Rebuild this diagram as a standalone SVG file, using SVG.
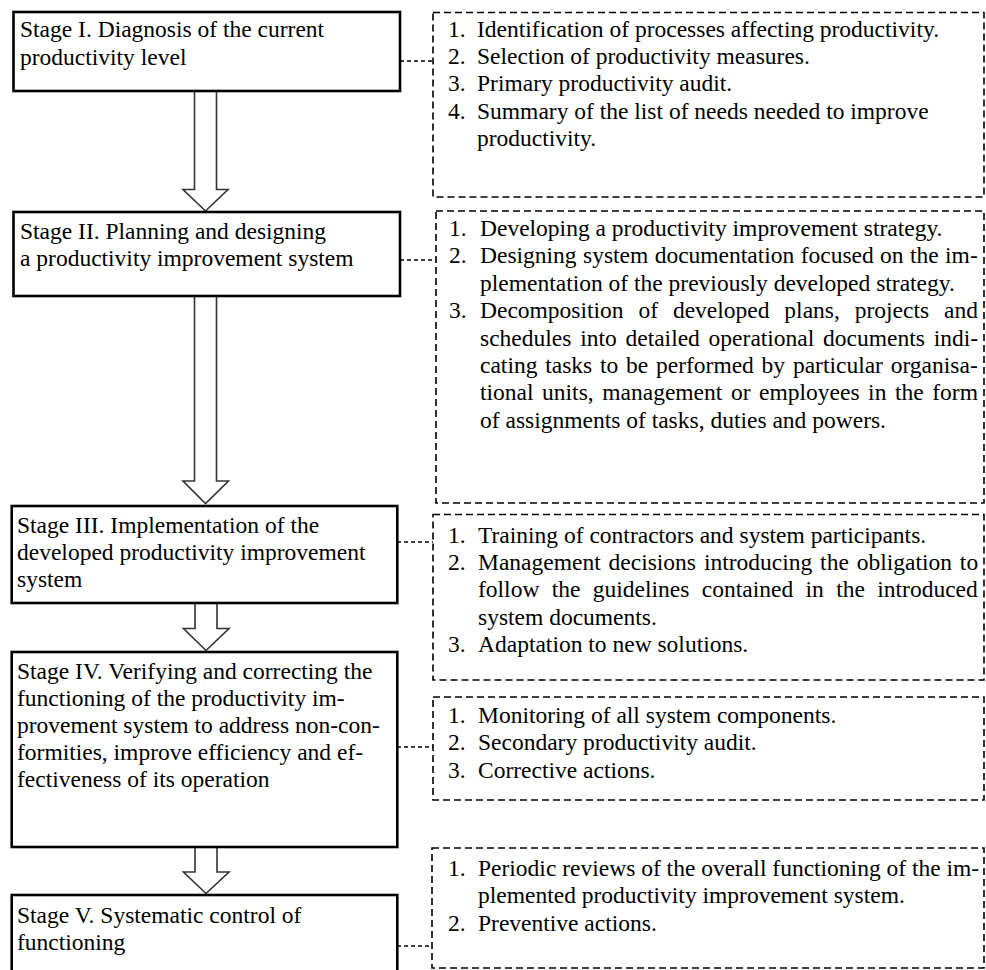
<svg xmlns="http://www.w3.org/2000/svg" width="986" height="970" viewBox="0 0 986 970">
<style>
text{font-family:"Liberation Serif","Times New Roman",serif;font-size:23.5px;fill:#000}
.stage{fill:#fff;stroke:#000;stroke-width:2.6}
.list{fill:none;stroke:#000;stroke-width:1.6;stroke-dasharray:7 4}
.arrow{fill:#fff;stroke:#333;stroke-width:1.6;stroke-linejoin:miter}
.conn{fill:none;stroke:#000;stroke-width:1.3;stroke-dasharray:4 3}
</style>
<rect width="986" height="970" fill="#fff"/>
<g id="connectors">
<path class="conn" d="M400 61 H433"/>
<path class="conn" d="M400 260 H436"/>
<path class="conn" d="M397 542 H433"/>
<path class="conn" d="M397 747 H433"/>
<path class="conn" d="M397 946 H432"/>
<path class="arrow" d="M194.5 91 V189.5 H183 L205.5 211 L228 189.5 H216.5 V91"/>
<path class="arrow" d="M194.5 296 V481 H183 L205.5 503.5 L228.5 481 H216.5 V296"/>
<path class="arrow" d="M195 603 V628.5 H183.5 L206 650.5 L229 628.5 H217 V603"/>
<path class="arrow" d="M195 847 V872 H183.5 L206 893.5 L229 872 H217 V847"/>
</g>
<g id="stage1">
<rect class="stage" x="13.5" y="12" width="386.5" height="79"/>
<text x="20" y="37">Stage I. Diagnosis of the current</text>
<text x="20" y="64.5">productivity level</text>
</g>
<g id="stage2">
<rect class="stage" x="13.5" y="212" width="386.5" height="84"/>
<text x="20" y="239">Stage II. Planning and designing</text>
<text x="20" y="266">a productivity improvement system</text>
</g>
<g id="stage3">
<rect class="stage" x="11.7" y="506" width="385.6" height="97"/>
<text x="17" y="533">Stage III. Implementation of the</text>
<text x="17" y="560">developed productivity improvement</text>
<text x="17" y="587">system</text>
</g>
<g id="stage4">
<rect class="stage" x="11.7" y="652" width="385.6" height="195"/>
<text x="17" y="678.5">Stage IV. Verifying and correcting the</text>
<text x="17" y="705.5">functioning of the productivity im-</text>
<text x="17" y="732.5">provement system to address non-con-</text>
<text x="17" y="759.5">formities, improve efficiency and ef-</text>
<text x="17" y="786.5">fectiveness of its operation</text>
</g>
<g id="stage5">
<rect class="stage" x="11.7" y="895" width="385.6" height="90"/>
<text x="17" y="922.5">Stage V. Systematic control of</text>
<text x="17" y="949.5">functioning</text>
</g>
<g id="list1">
<rect class="list" x="433" y="12.5" width="551" height="184.5"/>
<text x="448" y="36.5">1.</text><text x="477" y="36.5">Identification of processes affecting productivity.</text>
<text x="448" y="63.9">2.</text><text x="477" y="63.9">Selection of productivity measures.</text>
<text x="448" y="91.3">3.</text><text x="477" y="91.3">Primary productivity audit.</text>
<text x="448" y="118.7">4.</text><text x="477" y="118.7">Summary of the list of needs needed to improve</text>
<text x="477" y="146.1">productivity.</text>
</g>
<g id="list2">
<rect class="list" x="436" y="211" width="548" height="292"/>
<text x="449" y="236">1.</text><text x="480" y="236">Developing a productivity improvement strategy.</text>
<text x="449" y="263.4">2.</text><text x="480" y="263.4" word-spacing="0.5">Designing system documentation focused on the im-</text>
<text x="480" y="290.8">plementation of the previously developed strategy.</text>
<text x="449" y="318.2">3.</text><text x="480" y="318.2" word-spacing="9">Decomposition of developed plans, projects and</text>
<text x="480" y="345.6" word-spacing="2.9">schedules into detailed operational documents indi-</text>
<text x="480" y="373" word-spacing="1.9">cating tasks to be performed by particular organisa-</text>
<text x="480" y="400.4" word-spacing="2.7">tional units, management or employees in the form</text>
<text x="480" y="427.8">of assignments of tasks, duties and powers.</text>
</g>
<g id="list3">
<rect class="list" x="433" y="514.5" width="551" height="165.5"/>
<text x="448" y="542.5">1.</text><text x="478" y="542.5">Training of contractors and system participants.</text>
<text x="448" y="569.9">2.</text><text x="478" y="569.9" word-spacing="2">Management decisions introducing the obligation to</text>
<text x="478" y="597.3" word-spacing="6.5">follow the guidelines contained in the introduced</text>
<text x="478" y="624.7">system documents.</text>
<text x="448" y="652.1">3.</text><text x="478" y="652.1">Adaptation to new solutions.</text>
</g>
<g id="list4">
<rect class="list" x="433" y="697" width="551" height="103"/>
<text x="448" y="723">1.</text><text x="478" y="723">Monitoring of all system components.</text>
<text x="448" y="750.4">2.</text><text x="478" y="750.4">Secondary productivity audit.</text>
<text x="448" y="777.8">3.</text><text x="478" y="777.8">Corrective actions.</text>
</g>
<g id="list5">
<rect class="list" x="432" y="848" width="552" height="120"/>
<text x="448" y="876">1.</text><text x="478" y="876">Periodic reviews of the overall functioning of the im-</text>
<text x="478" y="903.4">plemented productivity improvement system.</text>
<text x="448" y="930.8">2.</text><text x="478" y="930.8">Preventive actions.</text>
</g>
</svg>
